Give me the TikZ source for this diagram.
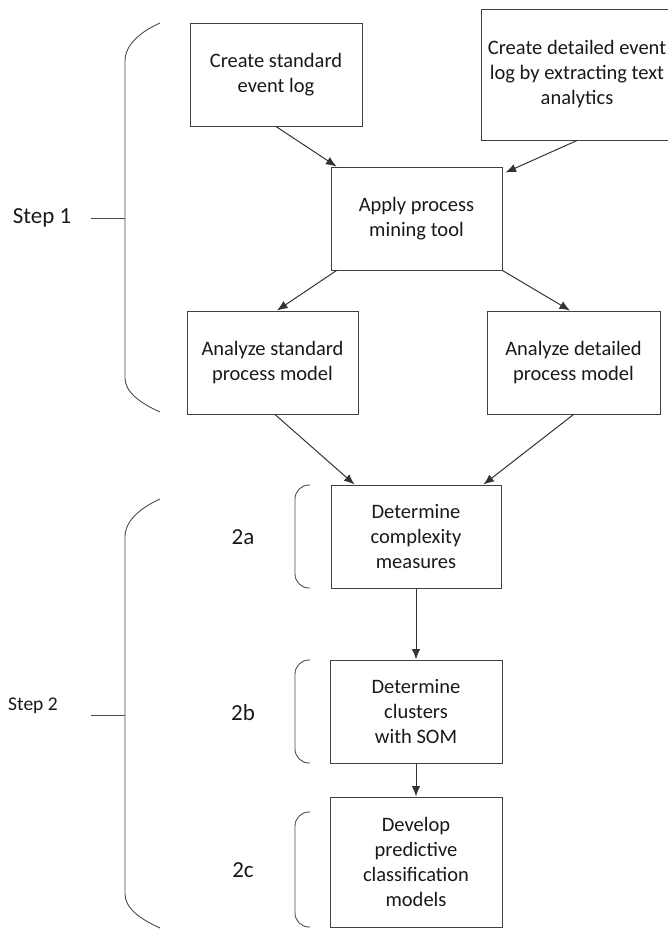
\documentclass[tikz,border=0pt]{standalone}
\usepackage{fontspec}
\setmainfont{Carlito}
\usetikzlibrary{arrows.meta}
\newcommand\bigbrace[3]{\draw[brace] (160,#1) .. controls (140,{#1+9}) and (125,{#1+22}) .. (125,{#1+38}) -- (125,{#3-34}) .. controls (125,{#3-20}) and (140,{#3-9}) .. (160,#3); \draw[brace] (91,#2) -- (125,#2);}
\newcommand\substep[4]{\draw[brace,rounded corners=14pt] (310,#2) -| (295,{(#2+#3)/2}) |- (310,#3); \node(#1)[lbl] at (243,{(#2+#3)/2+1}) {#4};}

\begin{document}
\begin{tikzpicture}[x=1pt,y=-1pt,
    box/.style={draw=black!75,line width=1pt,align=center,inner sep=0pt,
        font=\fontsize{20.5}{25}\selectfont,text=black!90},
    link/.style={draw=black!80,line width=1pt,-{Latex[length=10.5pt,width=8.5pt]}},
    brace/.style={draw=black!70,line width=0.9pt},
    lbl/.style={font=\fontsize{23}{27}\selectfont,text=black!90}]
    \useasboundingbox (0,0) rectangle (668,929);

    % step 1
    \node(cs)[box,minimum width=172pt,minimum height=103pt] at (276,74.5) {Create standard\\event log};
    \node(cd)[box,minimum width=192pt,minimum height=131pt] at (577,74.5) {Create detailed event\\log by extracting text\\analytics};
    \node(ap)[box,minimum width=171pt,minimum height=103pt] at (416.5,218.5) {Apply process\\mining tool};
    \node(as)[box,minimum width=171pt,minimum height=103pt] at (272.5,362.5) {Analyze standard\\process model};
    \node(ad)[box,minimum width=173pt,minimum height=103pt] at (573.5,362.5) {Analyze detailed\\process model};

    % step 2
    \node(dc)[box,minimum width=170pt,minimum height=103pt] at (416,536.5) {Determine\\complexity\\measures};
    \node(cl)[box,minimum width=172pt,minimum height=103pt] at (416,711.5) {Determine\\clusters\\with SOM};
    \node(pm)[box,minimum width=172pt,minimum height=130pt] at (416,862) {Develop\\predictive\\classification\\models};

    \draw[link] (cs.south) -- ([xshift=6pt]ap.north west);
    \draw[link] (cd.south) -- ([xshift=3pt,yshift=-6pt]ap.north east);
    \draw[link] ([xshift=6pt]ap.south west) -- ([xshift=4.5pt]as.north);
    \draw[link] (ap.south east) -- ([xshift=-3.5pt]ad.north);
    \draw[link] ([xshift=2.5pt]as.south) -- ([xshift=24pt]dc.north west);
    \draw[link] (ad.south) -- ([xshift=-18pt]dc.north east);
    \draw[link] (dc) -- (cl);
    \draw[link] (cl) -- (pm);

    % braces
    \bigbrace{23}{218}{412}
    \bigbrace{499}{715}{928}
    \node(s1)[lbl] at (42,218) {Step 1};
    \node(s2)[font=\fontsize{19.5}{23}\selectfont,text=black!90] at (33,706) {Step 2};
    \substep{l2a}{485}{588}{2a}
    \substep{l2b}{660}{763}{2b}
    \substep{l2c}{812}{927}{2c}
\end{tikzpicture}
\end{document}
